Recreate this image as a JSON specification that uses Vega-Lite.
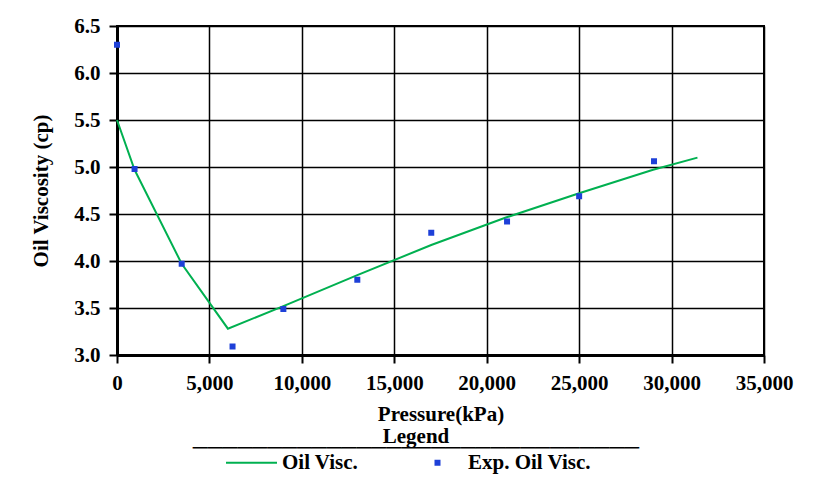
{
  "$schema": "https://vega.github.io/schema/vega-lite/v6.json",
  "autosize": "none",
  "width": 647,
  "height": 329,
  "padding": {"left": 117, "top": 26, "right": 53, "bottom": 127},
  "background": "white",
  "config": {
    "font": "Liberation Serif",
    "view": {"stroke": "black", "strokeWidth": 2},
    "axis": {
      "labelFont": "Liberation Serif",
      "labelFontWeight": "bold",
      "labelFontSize": 21,
      "labelColor": "black",
      "labelFlush": false,
      "labelOverlap": false,
      "titleFont": "Liberation Serif",
      "titleFontWeight": "bold",
      "titleFontSize": 21,
      "titleColor": "black",
      "domainColor": "black",
      "domainWidth": 3,
      "tickColor": "black",
      "tickWidth": 2,
      "tickSize": 8,
      "gridColor": "black",
      "gridWidth": 1.5,
      "gridOpacity": 1
    }
  },
  "datasets": {
    "model": [
      {"pressure": 0, "viscosity": 5.5},
      {"pressure": 950, "viscosity": 4.97},
      {"pressure": 3500, "viscosity": 3.97},
      {"pressure": 6000, "viscosity": 3.28},
      {"pressure": 9000, "viscosity": 3.52},
      {"pressure": 13000, "viscosity": 3.85},
      {"pressure": 17000, "viscosity": 4.17},
      {"pressure": 21000, "viscosity": 4.46},
      {"pressure": 25000, "viscosity": 4.72},
      {"pressure": 29000, "viscosity": 4.97},
      {"pressure": 31400, "viscosity": 5.1}
    ],
    "measured": [
      {"pressure": 0, "viscosity": 6.3, "series": "Exp. Oil Visc."},
      {"pressure": 950, "viscosity": 4.98, "series": "Exp. Oil Visc."},
      {"pressure": 3500, "viscosity": 3.97, "series": "Exp. Oil Visc."},
      {"pressure": 6250, "viscosity": 3.09, "series": "Exp. Oil Visc."},
      {"pressure": 9000, "viscosity": 3.49, "series": "Exp. Oil Visc."},
      {"pressure": 13000, "viscosity": 3.8, "series": "Exp. Oil Visc."},
      {"pressure": 17000, "viscosity": 4.3, "series": "Exp. Oil Visc."},
      {"pressure": 21100, "viscosity": 4.42, "series": "Exp. Oil Visc."},
      {"pressure": 25000, "viscosity": 4.69, "series": "Exp. Oil Visc."},
      {"pressure": 29050, "viscosity": 5.06, "series": "Exp. Oil Visc."}
    ]
  },
  "encoding": {
    "x": {
      "field": "pressure",
      "type": "quantitative",
      "scale": {"domain": [0, 35000], "nice": false},
      "axis": {
        "title": "Pressure(kPa)",
        "values": [0, 5000, 10000, 15000, 20000, 25000, 30000, 35000],
        "format": ",.0f",
        "labelPadding": 9,
        "titlePadding": 10
      }
    },
    "y": {
      "field": "viscosity",
      "type": "quantitative",
      "scale": {"domain": [3, 6.5], "nice": false, "zero": false},
      "axis": {
        "title": "Oil Viscosity (cp)",
        "values": [3, 3.5, 4, 4.5, 5, 5.5, 6, 6.5],
        "format": ".1f",
        "labelPadding": 9,
        "titlePadding": 22
      }
    }
  },
  "layer": [
    {
      "data": {"name": "model"},
      "mark": {"type": "line", "color": "#00B050", "strokeWidth": 2},
      "encoding": {}
    },
    {
      "data": {"name": "measured"},
      "mark": {"type": "point", "filled": false, "opacity": 1, "strokeWidth": 2, "size": 16},
      "encoding": {
        "color": {
          "field": "series",
          "type": "nominal",
          "scale": {"domain": ["Oil Visc.", "Exp. Oil Visc."], "range": ["#00B050", "#1E40D8"]},
          "legend": {
            "title": ["Legend", "──────────────────────────────"],
            "orient": "none",
            "legendX": 76,
            "legendY": 400,
            "direction": "horizontal",
            "columns": 2,
            "padding": 0,
            "titleFont": "'Liberation Serif', 'DejaVu Sans'",
            "titleFontSize": 21,
            "titleFontWeight": "bold",
            "titleColor": "black",
            "titleAnchor": "middle",
            "titleAlign": "center",
            "titleLimit": 1000,
            "titleLineHeight": 11,
            "titlePadding": -6,
            "labelFont": "Liberation Serif",
            "labelFontSize": 21,
            "labelFontWeight": "bold",
            "labelColor": "black",
            "labelOffset": 20,
            "labelLimit": 400,
            "columnPadding": 68,
            "symbolSize": 16,
            "symbolStrokeWidth": 2
          }
        },
        "fill": {
          "field": "series",
          "type": "nominal",
          "scale": {"domain": ["Oil Visc.", "Exp. Oil Visc."], "range": ["transparent", "#1E40D8"]}
        },
        "shape": {
          "field": "series",
          "type": "nominal",
          "scale": {"domain": ["Oil Visc.", "Exp. Oil Visc."], "range": ["M-12.75,0H12.75", "square"]}
        }
      }
    }
  ]
}
